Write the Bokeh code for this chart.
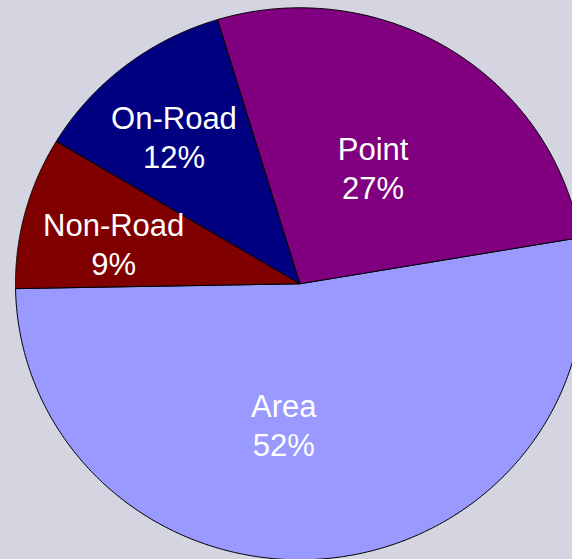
import numpy as np
from bokeh.plotting import figure
from bokeh.models import ColumnDataSource, Range1d, GlobalInlineStyleSheet
from bokeh.embed import file_html
from bokeh.resources import INLINE
from bokeh.core.properties import value

# ---- data ----
categories = ["Area", "Point", "On-Road", "Non-Road"]
shares = [52.4, 27.0, 11.7, 8.9]          # percent of total
colors = ["#9999FF", "#800080", "#000080", "#800000"]

# ---- layout / style ----
BG = "#D5D5E1"
W, H = 572, 559
PX_X, PX_Y = 284.3, 276.0     # pixels per data unit (pie slightly elliptical)
CX_PX, CY_PX = 299.3, 283.3   # pie centre inside the figure, in pixels
START_DEG = 181.0             # counter-clockwise start of the first slice
label_r = [0.515, 0.49, 0.69, 0.67]
label_nudge_deg = [-11.6, 0.0, 2.0, 2.75]
FONT = "Liberation Sans"
FONT_SIZE = "31px"

vals = np.array(shares, dtype=float)
angles = vals / vals.sum() * 360.0
starts = START_DEG + np.concatenate([[0.0], np.cumsum(angles)[:-1]])
ends = starts + angles

xs, ys = [], []
for a0, a1 in zip(starts, ends):
    t = np.radians(np.linspace(a0, a1, 240))
    xs.append(np.concatenate([[0.0], np.cos(t), [0.0]]).tolist())
    ys.append(np.concatenate([[0.0], np.sin(t), [0.0]]).tolist())

mid = (starts + ends) / 2.0 + np.array(label_nudge_deg)
lx = np.array(label_r) * np.cos(np.radians(mid))
ly = np.array(label_r) * np.sin(np.radians(mid))
pct = [f"{round(v)}%" for v in vals]

src = ColumnDataSource(dict(xs=xs, ys=ys, color=colors, cat=categories))
lsrc = ColumnDataSource(dict(x=lx, y=ly, name=categories, pct=pct))

p = figure(width=W, height=H, output_backend="svg", toolbar_location=None,
           x_axis_location=None, y_axis_location=None, min_border=0,
           x_range=Range1d(-CX_PX / PX_X, (W - CX_PX) / PX_X),
           y_range=Range1d(-(H - CY_PX) / PX_Y, CY_PX / PX_Y))
p.grid.visible = False
p.outline_line_color = None
p.background_fill_color = BG
p.border_fill_color = BG
p.stylesheets = [GlobalInlineStyleSheet(css=f"body {{ background: {BG}; }}")]

p.patches("xs", "ys", source=src, fill_color="color", line_color="black", line_width=1)

common = dict(source=lsrc, text_color="white", text_font=value(FONT),
              text_font_size=FONT_SIZE, text_align="center", text_baseline="alphabetic")
p.text("x", "y", text="name", y_offset=-19.0, **common)
p.text("x", "y", text="pct", y_offset=20.0, **common)

open("out.html", "w").write(file_html(p, INLINE))
